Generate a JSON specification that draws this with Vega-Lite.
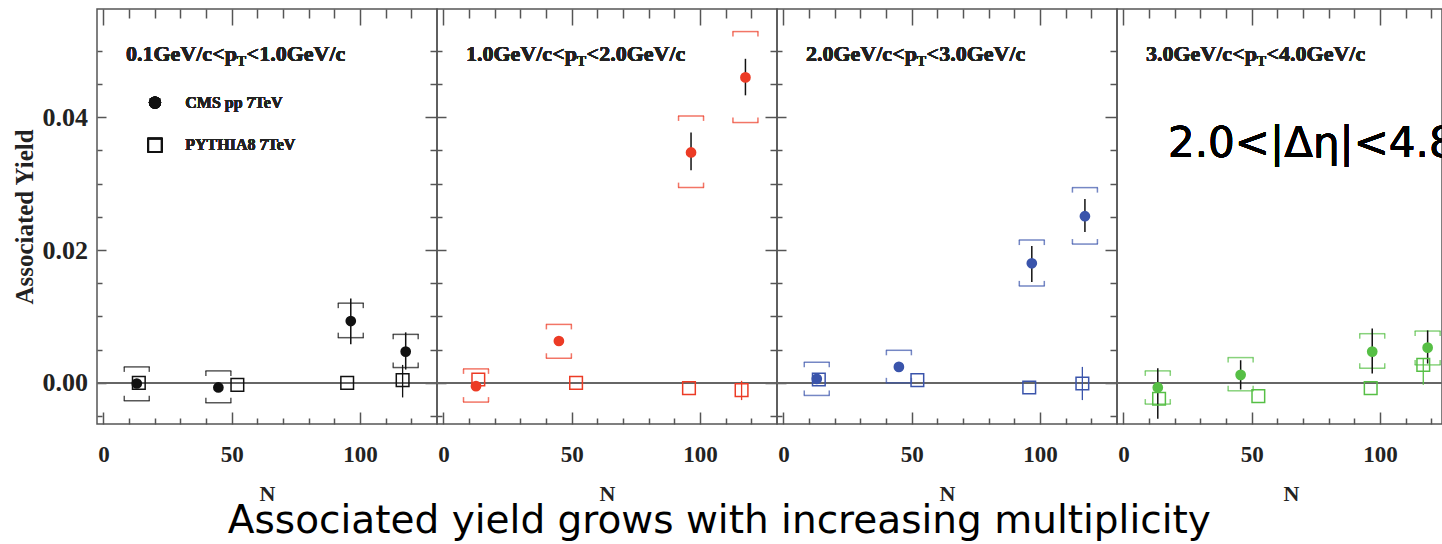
{
"$schema":"https://vega.github.io/schema/vega-lite/v6.json",
"autosize":"none",
"padding":{"left":97,"top":9,"right":1345,"bottom":535},
"bounds":"flush",
"spacing":0,
"background":"white",
"title":{"text":"Associated yield grows with increasing multiplicity","orient":"bottom","anchor":"middle","font":"DejaVu Sans","fontSize":39,"fontWeight":"normal","color":"#000","offset":-3,"dx":-8},
"data":{"values":[
{"p":1,"s":"CMS","N":13.0,"y":-0.0001,"lo":-0.0004,"hi":0.0002,"slo":-0.0027,"shi":0.0024},
{"p":1,"s":"CMS","N":44.8,"y":-0.0007,"lo":-0.0010,"hi":-0.0004,"slo":-0.0030,"shi":0.0018},
{"p":1,"s":"CMS","N":96.4,"y":0.0093,"lo":0.0058,"hi":0.0127,"slo":0.0068,"shi":0.0120},
{"p":1,"s":"CMS","N":117.8,"y":0.0047,"lo":0.0020,"hi":0.0076,"slo":0.0023,"shi":0.0073},
{"p":1,"s":"PYTHIA","N":13.8,"y":0.0000},
{"p":1,"s":"PYTHIA","N":52.2,"y":-0.0003},
{"p":1,"s":"PYTHIA","N":95.0,"y":0.0000},
{"p":1,"s":"PYTHIA","N":116.6,"y":0.0004,"lo":-0.0022,"hi":0.0027},
{"p":2,"s":"CMS","N":12.7,"y":-0.0005,"lo":-0.0009,"hi":-0.0001,"slo":-0.0029,"shi":0.0021},
{"p":2,"s":"CMS","N":45.0,"y":0.0063,"lo":0.0058,"hi":0.0068,"slo":0.0037,"shi":0.0088},
{"p":2,"s":"CMS","N":96.5,"y":0.0347,"lo":0.0320,"hi":0.0377,"slo":0.0294,"shi":0.0402},
{"p":2,"s":"CMS","N":117.7,"y":0.0460,"lo":0.0433,"hi":0.0488,"slo":0.0392,"shi":0.0529},
{"p":2,"s":"PYTHIA","N":13.6,"y":0.0005},
{"p":2,"s":"PYTHIA","N":51.7,"y":0.0000},
{"p":2,"s":"PYTHIA","N":95.7,"y":-0.0008},
{"p":2,"s":"PYTHIA","N":116.2,"y":-0.0011,"lo":-0.0026,"hi":0.0003},
{"p":3,"s":"CMS","N":13.0,"y":0.0006,"lo":0.0002,"hi":0.0010,"slo":-0.0019,"shi":0.0031},
{"p":3,"s":"CMS","N":45.0,"y":0.0024,"lo":0.0018,"hi":0.0031,"slo":0.0000,"shi":0.0049},
{"p":3,"s":"CMS","N":96.8,"y":0.0180,"lo":0.0152,"hi":0.0206,"slo":0.0146,"shi":0.0215},
{"p":3,"s":"CMS","N":117.5,"y":0.0251,"lo":0.0227,"hi":0.0277,"slo":0.0209,"shi":0.0294},
{"p":3,"s":"PYTHIA","N":13.8,"y":0.0005},
{"p":3,"s":"PYTHIA","N":52.2,"y":0.0004},
{"p":3,"s":"PYTHIA","N":95.8,"y":-0.0007},
{"p":3,"s":"PYTHIA","N":116.5,"y":-0.0001,"lo":-0.0026,"hi":0.0024},
{"p":4,"s":"CMS","N":13.4,"y":-0.0007,"lo":-0.0054,"hi":0.0022,"slo":-0.0032,"shi":0.0018},
{"p":4,"s":"CMS","N":45.7,"y":0.0012,"lo":-0.0010,"hi":0.0034,"slo":-0.0012,"shi":0.0038},
{"p":4,"s":"CMS","N":97.0,"y":0.0047,"lo":0.0014,"hi":0.0082,"slo":0.0022,"shi":0.0074},
{"p":4,"s":"CMS","N":118.6,"y":0.0053,"lo":0.0029,"hi":0.0079,"slo":0.0027,"shi":0.0078},
{"p":4,"s":"PYTHIA","N":13.9,"y":-0.0024},
{"p":4,"s":"PYTHIA","N":52.6,"y":-0.0020},
{"p":4,"s":"PYTHIA","N":96.4,"y":-0.0008},
{"p":4,"s":"PYTHIA","N":116.9,"y":0.0027,"lo":-0.0003,"hi":0.0036}
]},
"hconcat":[
{"width":340,"height":415,"transform":[{"filter":"datum.p===1"}],
"layer":[
{"mark":{"type":"rule","color":"#666","strokeWidth":1.5},"encoding":{"y":{"datum":0,"type":"quantitative","scale":{"domain":[-0.0062,0.0563],"nice":false,"zero":false},"axis":null}}},
{"transform":[{"filter":"datum.s==='CMS'"}],"mark":{"type":"tick","orient":"horizontal","size":26,"thickness":1.5,"color":"#111"},
 "encoding":{"x":{"field":"N","type":"quantitative","scale":{"domain":[-2.5,130],"nice":false,"zero":false},
   "axis":{"orient":"bottom","values":[0,10,20,30,40,50,60,70,80,90,100,110,120],"tickSize":{"condition":{"test":"datum.value % 50 === 0","value":-12},"value":-6},"labelExpr":"datum.value % 50 === 0 ? datum.label : ''","labelFontSize":23,"labelPadding":31.5,"title":"N","titleFontSize":22,"titlePadding":17}},
  "y":{"field":"shi","type":"quantitative","scale":{"domain":[-0.0062,0.0563],"nice":false,"zero":false},
   "axis":{"orient":"left","values":[-0.005,0,0.005,0.01,0.015,0.02,0.025,0.03,0.035,0.04,0.045,0.05],"tickSize":{"condition":{"test":"indexof([0,0.02,0.04], datum.value) >= 0","value":-9},"value":-5},"format":".2f","labelExpr":"indexof([0,0.02,0.04], datum.value) >= 0 ? datum.label : ''","labelFontSize":26,"labelPadding":18.5,"title":"Associated Yield","titleFontSize":25,"titlePadding":5}}}},
{"transform":[{"filter":"datum.s==='CMS'"}],"mark":{"type":"tick","orient":"horizontal","size":26,"thickness":1.5,"color":"#111"},
 "encoding":{"x":{"field":"N","type":"quantitative",
   "axis":{"orient":"top","values":[0,10,20,30,40,50,60,70,80,90,100,110,120],"tickSize":{"condition":{"test":"datum.value % 50 === 0","value":-16},"value":-9},"labels":false,"title":null}},
  "y":{"field":"slo","type":"quantitative",
   "axis":{"orient":"right","values":[-0.005,0,0.005,0.01,0.015,0.02,0.025,0.03,0.035,0.04,0.045,0.05],"tickSize":{"condition":{"test":"indexof([0,0.02,0.04], datum.value) >= 0","value":-12},"value":-7},"labels":false,"title":null}}}},
{"transform":[{"filter":"datum.s==='CMS'"}],"mark":{"type":"tick","orient":"vertical","size":5,"thickness":1.5,"color":"#111","xOffset":-12.5,"yOffset":2.5},"encoding":{"x":{"field":"N","type":"quantitative","axis":null},"y":{"field":"shi","type":"quantitative","axis":null}}},
{"transform":[{"filter":"datum.s==='CMS'"}],"mark":{"type":"tick","orient":"vertical","size":5,"thickness":1.5,"color":"#111","xOffset":12.5,"yOffset":2.5},"encoding":{"x":{"field":"N","type":"quantitative","axis":null},"y":{"field":"shi","type":"quantitative","axis":null}}},
{"transform":[{"filter":"datum.s==='CMS'"}],"mark":{"type":"tick","orient":"vertical","size":5,"thickness":1.5,"color":"#111","xOffset":-12.5,"yOffset":-2.5},"encoding":{"x":{"field":"N","type":"quantitative","axis":null},"y":{"field":"slo","type":"quantitative","axis":null}}},
{"transform":[{"filter":"datum.s==='CMS'"}],"mark":{"type":"tick","orient":"vertical","size":5,"thickness":1.5,"color":"#111","xOffset":12.5,"yOffset":-2.5},"encoding":{"x":{"field":"N","type":"quantitative","axis":null},"y":{"field":"slo","type":"quantitative","axis":null}}},
{"transform":[{"filter":"datum.s==='PYTHIA' && isValid(datum.lo)"}],"mark":{"type":"rule","color":"#111","strokeWidth":1.3},"encoding":{"x":{"field":"N","type":"quantitative","axis":null},"y":{"field":"lo","type":"quantitative","axis":null},"y2":{"field":"hi"}}},
{"transform":[{"filter":"datum.s==='CMS'"}],"mark":{"type":"rule","color":"#111","strokeWidth":1.5},"encoding":{"x":{"field":"N","type":"quantitative","axis":null},"y":{"field":"lo","type":"quantitative","axis":null},"y2":{"field":"hi"}}},
{"transform":[{"filter":"datum.s==='PYTHIA'"}],"mark":{"type":"point","shape":"square","filled":false,"color":"#111","size":160,"strokeWidth":1.5,"opacity":1},"encoding":{"x":{"field":"N","type":"quantitative","axis":null},"y":{"field":"y","type":"quantitative","axis":null}}},
{"transform":[{"filter":"datum.s==='CMS'"}],"mark":{"type":"point","shape":"circle","filled":true,"color":"#111","size":115,"opacity":1},"encoding":{"x":{"field":"N","type":"quantitative","axis":null},"y":{"field":"y","type":"quantitative","axis":null}}},
{"mark":{"type":"text","align":"left","baseline":"alphabetic","font":"Liberation Serif","fontWeight":"bold","fontSize":22,"color":"#222","text":"0.1GeV/c<p"},"encoding":{"x":{"datum":8.8,"type":"quantitative","axis":null},"y":{"datum":0.0485,"type":"quantitative","axis":null}}},
{"mark":{"type":"text","align":"left","baseline":"alphabetic","font":"Liberation Serif","fontWeight":"bold","fontSize":14,"color":"#222","text":"T"},"encoding":{"x":{"datum":52.0,"type":"quantitative","axis":null},"y":{"datum":0.0477,"type":"quantitative","axis":null}}},
{"mark":{"type":"text","align":"left","baseline":"alphabetic","font":"Liberation Serif","fontWeight":"bold","fontSize":22,"color":"#222","text":"<1.0GeV/c"},"encoding":{"x":{"datum":55.8,"type":"quantitative","axis":null},"y":{"datum":0.0485,"type":"quantitative","axis":null}}},
{"mark":{"type":"point","shape":"circle","filled":true,"color":"#111","size":150,"opacity":1},"encoding":{"x":{"datum":20.1,"type":"quantitative","axis":null},"y":{"datum":0.0422,"type":"quantitative","axis":null}}},
{"mark":{"type":"point","shape":"square","filled":false,"color":"#111","size":180,"strokeWidth":1.5,"opacity":1},"encoding":{"x":{"datum":20.1,"type":"quantitative","axis":null},"y":{"datum":0.0358,"type":"quantitative","axis":null}}},
{"mark":{"type":"text","align":"left","baseline":"middle","font":"Liberation Serif","fontWeight":"bold","fontSize":16,"color":"#222","text":"CMS pp 7TeV"},"encoding":{"x":{"datum":31.9,"type":"quantitative","axis":null},"y":{"datum":0.0422,"type":"quantitative","axis":null}}},
{"mark":{"type":"text","align":"left","baseline":"middle","font":"Liberation Serif","fontWeight":"bold","fontSize":16,"color":"#222","text":"PYTHIA8 7TeV"},"encoding":{"x":{"datum":31.9,"type":"quantitative","axis":null},"y":{"datum":0.0358,"type":"quantitative","axis":null}}}
]},
{"width":340,"height":415,"transform":[{"filter":"datum.p===2"}],
"layer":[
{"mark":{"type":"rule","color":"#666","strokeWidth":1.5},"encoding":{"y":{"datum":0,"type":"quantitative","scale":{"domain":[-0.0062,0.0563],"nice":false,"zero":false},"axis":null}}},
{"transform":[{"filter":"datum.s==='CMS'"}],"mark":{"type":"tick","orient":"horizontal","size":26,"thickness":1.5,"color":"#ec3b25"},
 "encoding":{"x":{"field":"N","type":"quantitative","scale":{"domain":[-2.5,130],"nice":false,"zero":false},
   "axis":{"orient":"bottom","values":[0,10,20,30,40,50,60,70,80,90,100,110,120],"tickSize":{"condition":{"test":"datum.value % 50 === 0","value":-12},"value":-6},"labelExpr":"datum.value % 50 === 0 ? datum.label : ''","labelFontSize":23,"labelPadding":31.5,"title":"N","titleFontSize":22,"titlePadding":17}},
  "y":{"field":"shi","type":"quantitative","scale":{"domain":[-0.0062,0.0563],"nice":false,"zero":false},
   "axis":{"orient":"left","values":[-0.005,0,0.005,0.01,0.015,0.02,0.025,0.03,0.035,0.04,0.045,0.05],"tickSize":{"condition":{"test":"indexof([0,0.02,0.04], datum.value) >= 0","value":-9},"value":-5},"labels":false,"title":null}}}},
{"transform":[{"filter":"datum.s==='CMS'"}],"mark":{"type":"tick","orient":"horizontal","size":26,"thickness":1.5,"color":"#ec3b25"},
 "encoding":{"x":{"field":"N","type":"quantitative",
   "axis":{"orient":"top","values":[0,10,20,30,40,50,60,70,80,90,100,110,120],"tickSize":{"condition":{"test":"datum.value % 50 === 0","value":-16},"value":-9},"labels":false,"title":null}},
  "y":{"field":"slo","type":"quantitative",
   "axis":{"orient":"right","values":[-0.005,0,0.005,0.01,0.015,0.02,0.025,0.03,0.035,0.04,0.045,0.05],"tickSize":{"condition":{"test":"indexof([0,0.02,0.04], datum.value) >= 0","value":-12},"value":-7},"labels":false,"title":null}}}},
{"transform":[{"filter":"datum.s==='CMS'"}],"mark":{"type":"tick","orient":"vertical","size":5,"thickness":1.5,"color":"#ec3b25","xOffset":-12.5,"yOffset":2.5},"encoding":{"x":{"field":"N","type":"quantitative","axis":null},"y":{"field":"shi","type":"quantitative","axis":null}}},
{"transform":[{"filter":"datum.s==='CMS'"}],"mark":{"type":"tick","orient":"vertical","size":5,"thickness":1.5,"color":"#ec3b25","xOffset":12.5,"yOffset":2.5},"encoding":{"x":{"field":"N","type":"quantitative","axis":null},"y":{"field":"shi","type":"quantitative","axis":null}}},
{"transform":[{"filter":"datum.s==='CMS'"}],"mark":{"type":"tick","orient":"vertical","size":5,"thickness":1.5,"color":"#ec3b25","xOffset":-12.5,"yOffset":-2.5},"encoding":{"x":{"field":"N","type":"quantitative","axis":null},"y":{"field":"slo","type":"quantitative","axis":null}}},
{"transform":[{"filter":"datum.s==='CMS'"}],"mark":{"type":"tick","orient":"vertical","size":5,"thickness":1.5,"color":"#ec3b25","xOffset":12.5,"yOffset":-2.5},"encoding":{"x":{"field":"N","type":"quantitative","axis":null},"y":{"field":"slo","type":"quantitative","axis":null}}},
{"transform":[{"filter":"datum.s==='PYTHIA' && isValid(datum.lo)"}],"mark":{"type":"rule","color":"#ec3b25","strokeWidth":1.3},"encoding":{"x":{"field":"N","type":"quantitative","axis":null},"y":{"field":"lo","type":"quantitative","axis":null},"y2":{"field":"hi"}}},
{"transform":[{"filter":"datum.s==='CMS'"}],"mark":{"type":"rule","color":"#111","strokeWidth":1.5},"encoding":{"x":{"field":"N","type":"quantitative","axis":null},"y":{"field":"lo","type":"quantitative","axis":null},"y2":{"field":"hi"}}},
{"transform":[{"filter":"datum.s==='PYTHIA'"}],"mark":{"type":"point","shape":"square","filled":false,"color":"#ec3b25","size":160,"strokeWidth":1.5,"opacity":1},"encoding":{"x":{"field":"N","type":"quantitative","axis":null},"y":{"field":"y","type":"quantitative","axis":null}}},
{"transform":[{"filter":"datum.s==='CMS'"}],"mark":{"type":"point","shape":"circle","filled":true,"color":"#ec3b25","size":115,"opacity":1},"encoding":{"x":{"field":"N","type":"quantitative","axis":null},"y":{"field":"y","type":"quantitative","axis":null}}},
{"mark":{"type":"text","align":"left","baseline":"alphabetic","font":"Liberation Serif","fontWeight":"bold","fontSize":22,"color":"#222","text":"1.0GeV/c<p"},"encoding":{"x":{"datum":8.8,"type":"quantitative","axis":null},"y":{"datum":0.0485,"type":"quantitative","axis":null}}},
{"mark":{"type":"text","align":"left","baseline":"alphabetic","font":"Liberation Serif","fontWeight":"bold","fontSize":14,"color":"#222","text":"T"},"encoding":{"x":{"datum":52.0,"type":"quantitative","axis":null},"y":{"datum":0.0477,"type":"quantitative","axis":null}}},
{"mark":{"type":"text","align":"left","baseline":"alphabetic","font":"Liberation Serif","fontWeight":"bold","fontSize":22,"color":"#222","text":"<2.0GeV/c"},"encoding":{"x":{"datum":55.8,"type":"quantitative","axis":null},"y":{"datum":0.0485,"type":"quantitative","axis":null}}}
]},
{"width":340,"height":415,"transform":[{"filter":"datum.p===3"}],
"layer":[
{"mark":{"type":"rule","color":"#666","strokeWidth":1.5},"encoding":{"y":{"datum":0,"type":"quantitative","scale":{"domain":[-0.0062,0.0563],"nice":false,"zero":false},"axis":null}}},
{"transform":[{"filter":"datum.s==='CMS'"}],"mark":{"type":"tick","orient":"horizontal","size":26,"thickness":1.5,"color":"#3a54ab"},
 "encoding":{"x":{"field":"N","type":"quantitative","scale":{"domain":[-2.5,130],"nice":false,"zero":false},
   "axis":{"orient":"bottom","values":[0,10,20,30,40,50,60,70,80,90,100,110,120],"tickSize":{"condition":{"test":"datum.value % 50 === 0","value":-12},"value":-6},"labelExpr":"datum.value % 50 === 0 ? datum.label : ''","labelFontSize":23,"labelPadding":31.5,"title":"N","titleFontSize":22,"titlePadding":17}},
  "y":{"field":"shi","type":"quantitative","scale":{"domain":[-0.0062,0.0563],"nice":false,"zero":false},
   "axis":{"orient":"left","values":[-0.005,0,0.005,0.01,0.015,0.02,0.025,0.03,0.035,0.04,0.045,0.05],"tickSize":{"condition":{"test":"indexof([0,0.02,0.04], datum.value) >= 0","value":-9},"value":-5},"labels":false,"title":null}}}},
{"transform":[{"filter":"datum.s==='CMS'"}],"mark":{"type":"tick","orient":"horizontal","size":26,"thickness":1.5,"color":"#3a54ab"},
 "encoding":{"x":{"field":"N","type":"quantitative",
   "axis":{"orient":"top","values":[0,10,20,30,40,50,60,70,80,90,100,110,120],"tickSize":{"condition":{"test":"datum.value % 50 === 0","value":-16},"value":-9},"labels":false,"title":null}},
  "y":{"field":"slo","type":"quantitative",
   "axis":{"orient":"right","values":[-0.005,0,0.005,0.01,0.015,0.02,0.025,0.03,0.035,0.04,0.045,0.05],"tickSize":{"condition":{"test":"indexof([0,0.02,0.04], datum.value) >= 0","value":-12},"value":-7},"labels":false,"title":null}}}},
{"transform":[{"filter":"datum.s==='CMS'"}],"mark":{"type":"tick","orient":"vertical","size":5,"thickness":1.5,"color":"#3a54ab","xOffset":-12.5,"yOffset":2.5},"encoding":{"x":{"field":"N","type":"quantitative","axis":null},"y":{"field":"shi","type":"quantitative","axis":null}}},
{"transform":[{"filter":"datum.s==='CMS'"}],"mark":{"type":"tick","orient":"vertical","size":5,"thickness":1.5,"color":"#3a54ab","xOffset":12.5,"yOffset":2.5},"encoding":{"x":{"field":"N","type":"quantitative","axis":null},"y":{"field":"shi","type":"quantitative","axis":null}}},
{"transform":[{"filter":"datum.s==='CMS'"}],"mark":{"type":"tick","orient":"vertical","size":5,"thickness":1.5,"color":"#3a54ab","xOffset":-12.5,"yOffset":-2.5},"encoding":{"x":{"field":"N","type":"quantitative","axis":null},"y":{"field":"slo","type":"quantitative","axis":null}}},
{"transform":[{"filter":"datum.s==='CMS'"}],"mark":{"type":"tick","orient":"vertical","size":5,"thickness":1.5,"color":"#3a54ab","xOffset":12.5,"yOffset":-2.5},"encoding":{"x":{"field":"N","type":"quantitative","axis":null},"y":{"field":"slo","type":"quantitative","axis":null}}},
{"transform":[{"filter":"datum.s==='PYTHIA' && isValid(datum.lo)"}],"mark":{"type":"rule","color":"#3a54ab","strokeWidth":1.3},"encoding":{"x":{"field":"N","type":"quantitative","axis":null},"y":{"field":"lo","type":"quantitative","axis":null},"y2":{"field":"hi"}}},
{"transform":[{"filter":"datum.s==='CMS'"}],"mark":{"type":"rule","color":"#111","strokeWidth":1.5},"encoding":{"x":{"field":"N","type":"quantitative","axis":null},"y":{"field":"lo","type":"quantitative","axis":null},"y2":{"field":"hi"}}},
{"transform":[{"filter":"datum.s==='PYTHIA'"}],"mark":{"type":"point","shape":"square","filled":false,"color":"#3a54ab","size":160,"strokeWidth":1.5,"opacity":1},"encoding":{"x":{"field":"N","type":"quantitative","axis":null},"y":{"field":"y","type":"quantitative","axis":null}}},
{"transform":[{"filter":"datum.s==='CMS'"}],"mark":{"type":"point","shape":"circle","filled":true,"color":"#3a54ab","size":115,"opacity":1},"encoding":{"x":{"field":"N","type":"quantitative","axis":null},"y":{"field":"y","type":"quantitative","axis":null}}},
{"mark":{"type":"text","align":"left","baseline":"alphabetic","font":"Liberation Serif","fontWeight":"bold","fontSize":22,"color":"#222","text":"2.0GeV/c<p"},"encoding":{"x":{"datum":8.8,"type":"quantitative","axis":null},"y":{"datum":0.0485,"type":"quantitative","axis":null}}},
{"mark":{"type":"text","align":"left","baseline":"alphabetic","font":"Liberation Serif","fontWeight":"bold","fontSize":14,"color":"#222","text":"T"},"encoding":{"x":{"datum":52.0,"type":"quantitative","axis":null},"y":{"datum":0.0477,"type":"quantitative","axis":null}}},
{"mark":{"type":"text","align":"left","baseline":"alphabetic","font":"Liberation Serif","fontWeight":"bold","fontSize":22,"color":"#222","text":"<3.0GeV/c"},"encoding":{"x":{"datum":55.8,"type":"quantitative","axis":null},"y":{"datum":0.0485,"type":"quantitative","axis":null}}}
]},
{"width":325,"height":415,"transform":[{"filter":"datum.p===4"}],
"layer":[
{"mark":{"type":"rule","color":"#666","strokeWidth":1.5},"encoding":{"y":{"datum":0,"type":"quantitative","scale":{"domain":[-0.0062,0.0563],"nice":false,"zero":false},"axis":null}}},
{"transform":[{"filter":"datum.s==='CMS'"}],"mark":{"type":"tick","orient":"horizontal","size":26,"thickness":1.5,"color":"#56bf45"},
 "encoding":{"x":{"field":"N","type":"quantitative","scale":{"domain":[-2.5,124.2],"nice":false,"zero":false},
   "axis":{"orient":"bottom","values":[0,10,20,30,40,50,60,70,80,90,100,110,120],"tickSize":{"condition":{"test":"datum.value % 50 === 0","value":-12},"value":-6},"labelExpr":"datum.value % 50 === 0 ? datum.label : ''","labelFontSize":23,"labelPadding":31.5,"title":"N","titleFontSize":22,"titlePadding":17,"titleX":174}},
  "y":{"field":"shi","type":"quantitative","scale":{"domain":[-0.0062,0.0563],"nice":false,"zero":false},
   "axis":{"orient":"left","values":[-0.005,0,0.005,0.01,0.015,0.02,0.025,0.03,0.035,0.04,0.045,0.05],"tickSize":{"condition":{"test":"indexof([0,0.02,0.04], datum.value) >= 0","value":-9},"value":-5},"labels":false,"title":null}}}},
{"transform":[{"filter":"datum.s==='CMS'"}],"mark":{"type":"tick","orient":"horizontal","size":26,"thickness":1.5,"color":"#56bf45"},
 "encoding":{"x":{"field":"N","type":"quantitative",
   "axis":{"orient":"top","values":[0,10,20,30,40,50,60,70,80,90,100,110,120],"tickSize":{"condition":{"test":"datum.value % 50 === 0","value":-16},"value":-9},"labels":false,"title":null}},
  "y":{"field":"slo","type":"quantitative","axis":null}}},
{"transform":[{"filter":"datum.s==='CMS'"}],"mark":{"type":"tick","orient":"vertical","size":5,"thickness":1.5,"color":"#56bf45","xOffset":-12.5,"yOffset":2.5},"encoding":{"x":{"field":"N","type":"quantitative","axis":null},"y":{"field":"shi","type":"quantitative","axis":null}}},
{"transform":[{"filter":"datum.s==='CMS'"}],"mark":{"type":"tick","orient":"vertical","size":5,"thickness":1.5,"color":"#56bf45","xOffset":12.5,"yOffset":2.5},"encoding":{"x":{"field":"N","type":"quantitative","axis":null},"y":{"field":"shi","type":"quantitative","axis":null}}},
{"transform":[{"filter":"datum.s==='CMS'"}],"mark":{"type":"tick","orient":"vertical","size":5,"thickness":1.5,"color":"#56bf45","xOffset":-12.5,"yOffset":-2.5},"encoding":{"x":{"field":"N","type":"quantitative","axis":null},"y":{"field":"slo","type":"quantitative","axis":null}}},
{"transform":[{"filter":"datum.s==='CMS'"}],"mark":{"type":"tick","orient":"vertical","size":5,"thickness":1.5,"color":"#56bf45","xOffset":12.5,"yOffset":-2.5},"encoding":{"x":{"field":"N","type":"quantitative","axis":null},"y":{"field":"slo","type":"quantitative","axis":null}}},
{"transform":[{"filter":"datum.s==='PYTHIA' && isValid(datum.lo)"}],"mark":{"type":"rule","color":"#56bf45","strokeWidth":1.3},"encoding":{"x":{"field":"N","type":"quantitative","axis":null},"y":{"field":"lo","type":"quantitative","axis":null},"y2":{"field":"hi"}}},
{"transform":[{"filter":"datum.s==='CMS'"}],"mark":{"type":"rule","color":"#111","strokeWidth":1.5},"encoding":{"x":{"field":"N","type":"quantitative","axis":null},"y":{"field":"lo","type":"quantitative","axis":null},"y2":{"field":"hi"}}},
{"transform":[{"filter":"datum.s==='PYTHIA'"}],"mark":{"type":"point","shape":"square","filled":false,"color":"#56bf45","size":160,"strokeWidth":1.5,"opacity":1},"encoding":{"x":{"field":"N","type":"quantitative","axis":null},"y":{"field":"y","type":"quantitative","axis":null}}},
{"transform":[{"filter":"datum.s==='CMS'"}],"mark":{"type":"point","shape":"circle","filled":true,"color":"#56bf45","size":115,"opacity":1},"encoding":{"x":{"field":"N","type":"quantitative","axis":null},"y":{"field":"y","type":"quantitative","axis":null}}},
{"mark":{"type":"text","align":"left","baseline":"alphabetic","font":"Liberation Serif","fontWeight":"bold","fontSize":22,"color":"#222","text":"3.0GeV/c<p"},"encoding":{"x":{"datum":8.8,"type":"quantitative","axis":null},"y":{"datum":0.0485,"type":"quantitative","axis":null}}},
{"mark":{"type":"text","align":"left","baseline":"alphabetic","font":"Liberation Serif","fontWeight":"bold","fontSize":14,"color":"#222","text":"T"},"encoding":{"x":{"datum":52.0,"type":"quantitative","axis":null},"y":{"datum":0.0477,"type":"quantitative","axis":null}}},
{"mark":{"type":"text","align":"left","baseline":"alphabetic","font":"Liberation Serif","fontWeight":"bold","fontSize":22,"color":"#222","text":"<4.0GeV/c"},"encoding":{"x":{"datum":55.8,"type":"quantitative","axis":null},"y":{"datum":0.0485,"type":"quantitative","axis":null}}},
{"mark":{"type":"text","align":"left","baseline":"alphabetic","font":"DejaVu Sans","fontWeight":"normal","fontSize":42,"color":"#000","clip":true,"text":"2.0<|Δη|<4.8"},"encoding":{"x":{"datum":17.4,"type":"quantitative","axis":null},"y":{"datum":0.0340,"type":"quantitative","axis":null}}}
]}
],
"config":{"view":{"stroke":"#555","strokeWidth":1.5},"font":"Liberation Serif",
"axis":{"domain":false,"grid":false,"tickColor":"#555","tickWidth":1.5,"labelFont":"Liberation Serif","labelFontWeight":"bold","labelColor":"#222","titleFont":"Liberation Serif","titleFontWeight":"bold","titleColor":"#222","labelFlush":false}}
}
